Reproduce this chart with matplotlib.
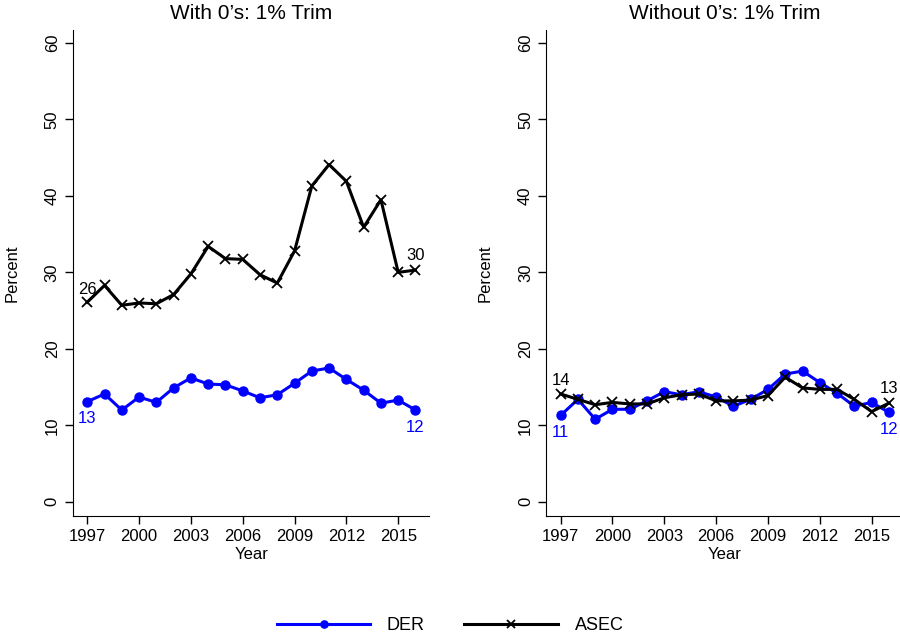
import matplotlib.pyplot as plt

plt.rcParams['font.family'] = ['Liberation Sans', 'DejaVu Sans']

years = list(range(1997, 2017))

# With 0's
der_with = [13.1, 14.1, 12.0, 13.7, 13.0, 14.9, 16.2, 15.4, 15.3, 14.5,
            13.6, 14.0, 15.5, 17.1, 17.5, 16.0, 14.6, 12.9, 13.3, 12.0]
asec_with = [26.1, 28.3, 25.7, 26.0, 25.9, 27.1, 29.8, 33.4, 31.8, 31.7,
             29.7, 28.6, 32.8, 41.3, 44.1, 41.9, 35.9, 39.5, 30.0, 30.3]

# Without 0's
der_without = [11.3, 13.4, 10.8, 12.1, 12.1, 13.2, 14.4, 14.0, 14.4, 13.7,
               12.5, 13.4, 14.7, 16.7, 17.1, 15.6, 14.2, 12.5, 13.0, 11.7]
asec_without = [14.1, 13.4, 12.7, 13.0, 12.8, 12.8, 13.6, 14.0, 14.1, 13.2,
                13.2, 13.3, 13.9, 16.3, 14.9, 14.7, 14.7, 13.4, 11.8, 12.9]

titles = ["With 0\u2019s: 1% Trim", "Without 0\u2019s: 1% Trim"]
blue = "#0000FF"

fig = plt.figure(figsize=(9, 6.37), dpi=100)
ax1 = fig.add_axes([0.081, 0.19, 0.396, 0.763])
ax2 = fig.add_axes([0.607, 0.19, 0.396, 0.763])

panels = [(ax1, der_with, asec_with), (ax2, der_without, asec_without)]
for i, (ax, der, asec) in enumerate(panels):
    l1, = ax.plot(years, der, color=blue, lw=2.2, marker='o', markersize=6.5,
                  label="DER")
    l2, = ax.plot(years, asec, color='black', lw=2.2, marker='x', markersize=7,
                  markeredgewidth=1.3, label="ASEC")
    ax.set_xlim(1996.17, 2016.8)
    ax.set_ylim(-1.85, 61.7)
    ax.set_xticks(range(1997, 2016, 3))
    ax.set_yticks(range(0, 61, 10))
    for lab in ax.get_yticklabels():
        lab.set_rotation(90)
        lab.set_va('center')
    ax.tick_params(labelsize=12, length=6, width=1, direction='out')
    ax.spines['top'].set_visible(False)
    ax.spines['right'].set_visible(False)
    ax.set_title(titles[i], fontsize=15, pad=8)
    ax.set_xlabel("Year", fontsize=12, labelpad=2)
    ax.set_ylabel("Percent", fontsize=12, labelpad=18)

    # start / end value labels
    ax.annotate(f"{round(asec[0])}", (years[0], asec[0]), xytext=(0, 4),
                textcoords='offset points', ha='center', va='bottom',
                fontsize=12, color='black')
    ax.annotate(f"{round(asec[-1])}", (years[-1], asec[-1]), xytext=(0, 5),
                textcoords='offset points', ha='center', va='bottom',
                fontsize=12, color='black')
    ax.annotate(f"{round(der[0])}", (years[0], der[0]), xytext=(0, -7),
                textcoords='offset points', ha='center', va='top',
                fontsize=12, color=blue)
    ax.annotate(f"{round(der[-1])}", (years[-1], der[-1]), xytext=(0, -7),
                textcoords='offset points', ha='center', va='top',
                fontsize=12, color=blue)

fig.legend(handles=[l1, l2], loc='center', bbox_to_anchor=(0.5, 0.018),
           ncol=2, frameon=False, fontsize=13, handlelength=5.2,
           handletextpad=0.9, columnspacing=2.2, markerscale=0.8)

fig.savefig("out.png", dpi=100)
